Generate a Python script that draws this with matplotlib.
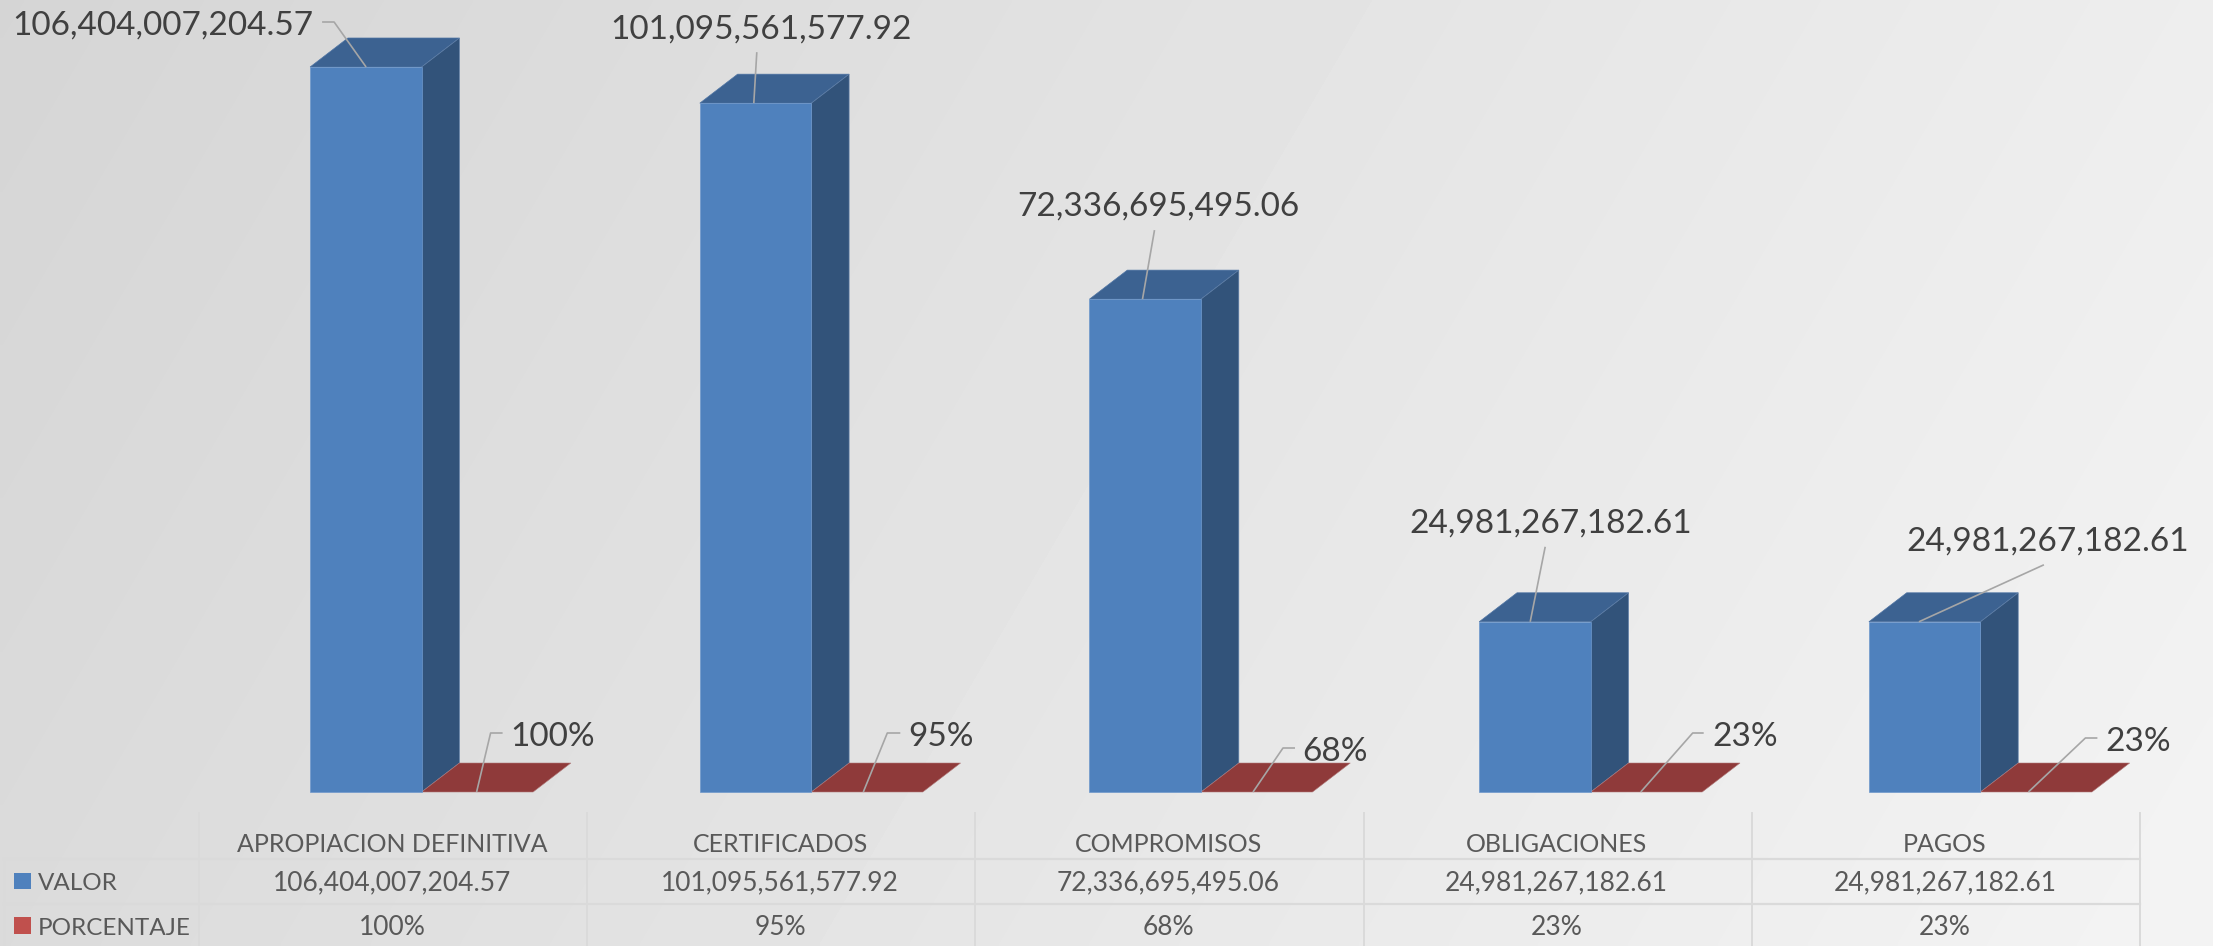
import matplotlib
matplotlib.use("Agg")
import numpy as np
import matplotlib.pyplot as plt
from matplotlib.patches import Polygon, Rectangle
from matplotlib.transforms import Affine2D

plt.rcParams['font.family'] = ['Lato', 'DejaVu Sans']

# ---- data ----
categories = ["APROPIACION DEFINITIVA", "CERTIFICADOS", "COMPROMISOS", "OBLIGACIONES", "PAGOS"]
valor = [106404007204.57, 101095561577.92, 72336695495.06, 24981267182.61, 24981267182.61]
porcentaje = [100, 95, 68, 23, 23]
series_names = ["VALOR", "PORCENTAJE"]

# ---- figure geometry (pixels) ----
W, H = 2213, 946
STEP = 389.7            # pixels per category
B0 = 421.6              # pixel x of the first category's blue/red boundary
BASE = 792              # pixel y of value 0
K = valor[0] / 725.0    # value per pixel
BAR_W = 111.5 / STEP
DX, DY = 37.8 / STEP, 29 * K

# ---- label layout: pixel offsets from each bar's front-top corner ----
val_text_off = [(-147, -32), (61, -65), (69, -84), (71, -89), (179, -71)]
val_leader = [[(56, 0), (24, -45), (12, -45)],
              [(54, 0), (57, -51)],
              [(53, 0), (65, -69)],
              [(51, 0), (66, -75)],
              [(50, 0), (175, -57)]]
pct_text_off = [(131, -46), (129.5, -46), (134, -31), (154, -46), (158, -41)]
pct_leader = [[(55, 0), (69, -59), (81, -59)],
              [(52, 0), (76, -59), (89, -59)],
              [(52, 0), (82, -44), (94, -44)],
              [(50, 0), (102, -59), (113, -59)],
              [(48, 0), (105, -54), (117, -54)]]

# ---- colours ----
C_FRONT, C_TOP, C_SIDE = "#4F81BD", "#3C6291", "#32537A"
C_RED_TOP = "#8F3A3A"
C_LEADER = "#A6A6A6"
C_LABEL = "#404040"
C_TABLE = "#595959"
C_GRID = "#DADADA"

fig = plt.figure(figsize=(W / 100, H / 100), dpi=100)

# background gradient
bg = fig.add_axes([0, 0, 1, 1], zorder=-1)
bg.axis("off")
xx, yy = np.meshgrid(np.linspace(0, 1, 400), np.linspace(0, 1, 200))
grad = np.clip(0.8 * xx + 0.2 * yy, 0, 1)
bg.imshow(0.835 + (0.955 - 0.835) * grad, cmap="gray", vmin=0, vmax=1,
          aspect="auto", extent=(0, 1, 1, 0), interpolation="bilinear")

ax = fig.add_axes([0, 0, 1, 1])
ax.patch.set_alpha(0)
ax.axis("off")
ax.set_xlim(-B0 / STEP, (W - B0) / STEP)
ax.set_ylim(-(H - BASE) * K, BASE * K)


def off(x, v, dx, dy):
    return x + dx / STEP, v - dy * K


for i, (v, p) in enumerate(zip(valor, porcentaje)):
    left, right = i - BAR_W, i
    # blue box
    ax.add_patch(Polygon([(left, v), (right, v), (right + DX, v + DY), (left + DX, v + DY)],
                         closed=True, fc=C_TOP, ec="#4F74A3", lw=0.5, zorder=3))
    ax.add_patch(Polygon([(right, 0), (right + DX, DY), (right + DX, v + DY), (right, v)],
                         closed=True, fc=C_SIDE, ec="#5F7FA8", lw=0.5, zorder=3))
    ax.add_patch(Rectangle((left, 0), BAR_W, v, fc=C_FRONT, ec="#6E98CC", lw=0.5, zorder=4))
    # red box: percentage is negligible on the value axis
    ax.add_patch(Polygon([(right, p), (right + BAR_W, p), (right + BAR_W + DX, p + DY), (right + DX, p + DY)],
                         closed=True, fc=C_RED_TOP, ec="#B07A7A", lw=0.4, zorder=3))
    # value label and leader
    pts = [off(left, v, *o) for o in val_leader[i]]
    ax.plot(*zip(*pts), color=C_LEADER, lw=1.2, zorder=6, solid_capstyle="butt")
    tx, ty = off(left, v, *val_text_off[i])
    ax.text(tx, ty, f"{v:,.2f}", ha="center", va="baseline", fontsize=24, color=C_LABEL, zorder=7)
    # percentage label and leader
    pts = [off(right, p, *o) for o in pct_leader[i]]
    ax.plot(*zip(*pts), color=C_LEADER, lw=1.2, zorder=6, solid_capstyle="butt")
    tx, ty = off(right, p, *pct_text_off[i])
    ax.text(tx, ty, f"{p}%", ha="center", va="baseline", fontsize=24, color=C_LABEL, zorder=7)

# ---- data table, in figure pixels ----
px = Affine2D().scale(1 / W, -1 / H).translate(0, 1) + fig.transFigure
COL0, COLW = 199, 388.2
N = len(categories)
ROW_LINES = [859, 904]
for k in range(N + 1):
    x = COL0 + k * COLW
    fig.add_artist(plt.Line2D([x, x], [813, H], transform=px, color=C_GRID, lw=1.4, zorder=1))
for y in ROW_LINES:
    fig.add_artist(plt.Line2D([4, COL0 + N * COLW], [y, y], transform=px, color=C_GRID, lw=1.6, zorder=1))
fig.add_artist(plt.Line2D([4, 4], [859, H], transform=px, color=C_GRID, lw=0.8, zorder=1))

for k, name in enumerate(categories):
    cx = COL0 + (k + 0.5) * COLW - 1
    fig.text(cx, 852, name, transform=px, ha="center", va="baseline", fontsize=18, color=C_TABLE)
    fig.text(cx, 890, f"{valor[k]:,.2f}", transform=px, ha="center", va="baseline", fontsize=19, color=C_TABLE)
    fig.text(cx, 935, f"{porcentaje[k]}%", transform=px, ha="center", va="baseline", fontsize=19, color=C_TABLE)

for name, col, (y0, y1), base in zip(series_names, ["#4F81BD", "#C0504D"], [(873, 889), (917, 934)], [890, 935]):
    fig.add_artist(Rectangle((14, y0), 17, y1 - y0, transform=px, fc=col, ec="none"))
    fig.text(38, base, name, transform=px, ha="left", va="baseline", fontsize=17.5, color=C_TABLE)

fig.savefig("out.png", dpi=100)
